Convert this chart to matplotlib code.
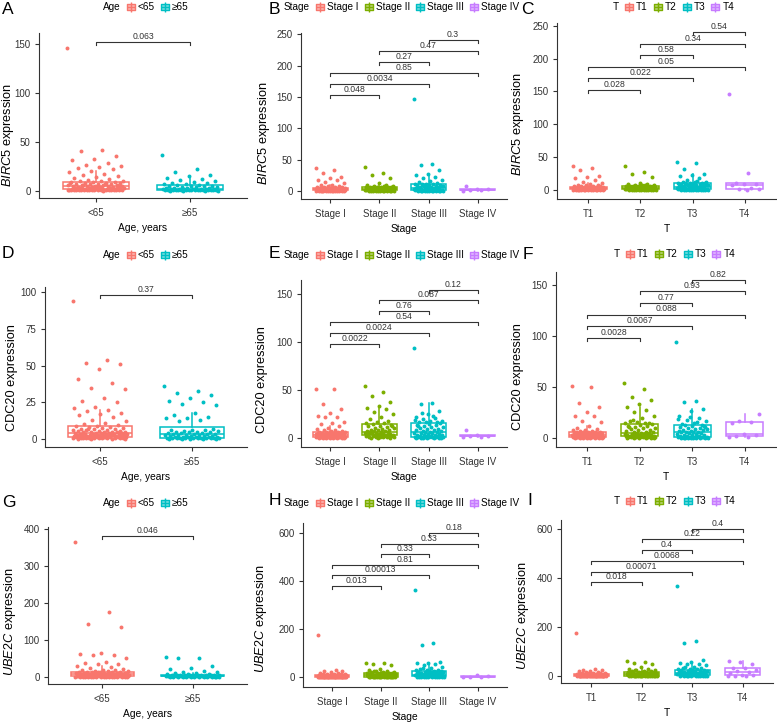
import numpy as np
import matplotlib
matplotlib.use("Agg")
import matplotlib.pyplot as plt
from matplotlib.lines import Line2D
from matplotlib.path import Path

plt.rcParams['font.family'] = ['Liberation Sans', 'DejaVu Sans']
plt.rcParams['mathtext.fontset'] = 'custom'
plt.rcParams['mathtext.rm'] = 'Liberation Sans'
plt.rcParams['mathtext.it'] = 'Liberation Sans:italic'

# ---------------- data ----------------
age_labels = ['<65', '≥65']
stage_labels = ['Stage I', 'Stage II', 'Stage III', 'Stage IV']
t_labels = ['T1', 'T2', 'T3', 'T4']

# BIRC5
birc5_lt65 = [146, 42, 41, 36, 32, 31, 28, 26, 25, 24, 23, 22, 20, 19, 17, 16, 15, 14, 13, 12, 11, 10, 10,
              9.5, 9, 8.8, 8.5, 8.2,
              7.9, 7.6, 7.2, 7.0, 6.8, 6.5, 6.2, 6.0, 5.8, 5.5, 5.2, 5.0, 4.8, 4.6, 4.4, 4.2, 4.0, 3.8, 3.6, 7.4, 6.6, 5.4, 4.5,
              3.4, 3.2, 3.0, 2.9, 2.7, 2.6, 2.4, 2.2, 2.1, 2.0, 1.9, 1.8, 1.7, 1.6, 1.5, 1.4, 1.3, 1.2, 1.1, 2.5, 3.1, 2.8,
              1.0, 0.9, 0.9, 0.8, 0.8, 0.7, 0.7, 0.6, 0.6, 0.5, 0.5, 0.4, 0.4, 0.3, 0.3, 0.2, 0.2, 0.1, 0.6, 0.8, 0.9]
birc5_ge65 = [37, 22, 19, 16, 15, 13, 12, 11, 10, 9, 8, 7.5, 7, 6.5,
              5.8, 5.5, 5.2, 5.0, 4.7, 4.4, 4.0, 3.7, 3.4, 3.0, 2.7, 2.5, 2.3, 2.1,
              1.9, 1.8, 1.7, 1.6, 1.5, 1.4, 1.3, 1.2, 1.1, 1.0, 0.9, 0.8, 0.7, 0.6,
              0.5, 0.45, 0.4, 0.4, 0.35, 0.3, 0.3, 0.25, 0.2, 0.2, 0.15, 0.1, 0.1, 0.05]

birc5_s1 = [36, 33, 28, 22, 20, 18, 17, 14, 12, 10, 9, 8, 7.5, 7, 6.5, 6, 5.8, 5.5, 5.2, 5.1,
            4.9, 4.7, 4.5, 4.3, 4.1, 3.9, 3.7, 3.5, 3.4, 3.3, 3.2, 3.1, 3.0, 2.9, 2.8, 2.7, 2.6, 4.0, 3.6, 2.55,
            2.4, 2.3, 2.2, 2.1, 2.0, 1.9, 1.8, 1.7, 1.6, 1.5, 1.4, 1.3, 1.2, 1.1, 1.05, 2.0, 1.5, 1.8, 1.3, 1.0,
            0.95, 0.9, 0.85, 0.8, 0.75, 0.7, 0.65, 0.6, 0.55, 0.5, 0.45, 0.4, 0.35, 0.3, 0.25, 0.2, 0.15, 0.1, 0.6, 0.8]
birc5_s2 = [38, 29, 26, 20, 12, 10, 9, 8, 7.5, 7, 6.5, 6.2, 6.1, 6.8, 7.2,
            5.9, 5.6, 5.3, 5.0, 4.8, 4.5, 4.3, 4.0, 3.8, 3.6, 3.4, 3.3, 3.2, 3.1, 5.5,
            2.9, 2.7, 2.5, 2.3, 2.1, 2.0, 1.9, 1.7, 1.5, 1.4, 1.3, 1.2, 1.1, 1.0, 2.4,
            0.9, 0.85, 0.8, 0.7, 0.65, 0.6, 0.5, 0.45, 0.4, 0.3, 0.25, 0.2, 0.15, 0.1, 0.7]
birc5_s3 = [146, 43, 42, 33, 27, 25, 23, 21, 18, 16, 14, 12, 11.5, 11.2, 11.1,
            10.8, 10.2, 9.6, 9.0, 8.5, 8.0, 7.5, 7.0, 6.6, 6.2, 5.8, 5.5, 5.2, 9.3, 7.8,
            4.8, 4.5, 4.2, 3.9, 3.6, 3.3, 3.0, 2.7, 2.4, 2.1, 1.8, 1.5, 1.3, 1.1, 4.0,
            0.95, 0.9, 0.8, 0.7, 0.65, 0.6, 0.5, 0.45, 0.4, 0.3, 0.25, 0.2, 0.15, 0.1, 0.55]
birc5_s4 = [0.3, 1.2, 2.0, 2.5, 3.0, 8.0]

birc5_t1 = [36, 33, 30, 22, 20, 18, 15, 12, 10, 9, 8, 7.5, 7, 6.5, 6, 5.8, 5.5, 5.2, 5.1, 5.05,
            4.9, 4.7, 4.5, 4.3, 4.1, 3.9, 3.7, 3.5, 3.4, 3.3, 3.2, 3.1, 3.0, 2.9, 2.8, 2.7, 2.6, 4.0, 3.6, 2.55,
            2.4, 2.3, 2.2, 2.1, 2.0, 1.9, 1.8, 1.7, 1.6, 1.5, 1.4, 1.3, 1.2, 1.1, 1.05, 2.0, 1.5, 1.8, 1.3, 1.0,
            0.95, 0.9, 0.85, 0.8, 0.75, 0.7, 0.65, 0.6, 0.55, 0.5, 0.45, 0.4, 0.35, 0.3, 0.25, 0.2, 0.15, 0.1, 0.6, 0.8]
birc5_t2 = [37, 28, 24, 20, 10, 9, 8.5, 8, 7.5, 7, 6.5, 6.2, 6.1, 6.8, 7.2,
            5.9, 5.6, 5.3, 5.0, 4.8, 4.5, 4.3, 4.0, 3.8, 3.6, 3.4, 3.3, 3.2, 3.1, 5.5,
            2.9, 2.7, 2.5, 2.3, 2.1, 2.0, 1.9, 1.7, 1.5, 1.4, 1.3, 1.2, 1.1, 1.0, 2.4,
            0.9, 0.85, 0.8, 0.7, 0.65, 0.6, 0.5, 0.45, 0.4, 0.3, 0.25, 0.2, 0.15, 0.1, 0.7]
birc5_t3 = [42, 41, 32, 25, 23, 21, 18, 15, 12, 11.8, 11.5, 11.3, 11.2, 11.1, 13,
            10.8, 10.2, 9.6, 9.0, 8.5, 8.0, 7.5, 7.0, 6.6, 6.2, 5.8, 5.5, 5.2, 9.3, 7.8,
            4.8, 4.5, 4.2, 3.9, 3.6, 3.3, 3.0, 2.7, 2.4, 2.1, 1.8, 1.5, 1.3, 1.1, 4.0,
            0.95, 0.9, 0.8, 0.7, 0.65, 0.6, 0.5, 0.45, 0.4, 0.3, 0.25, 0.2, 0.15, 0.1, 0.55]
birc5_t4 = [146, 26, 11, 9, 8.5, 7.5, 3, 1.5, 0.8, 0.3]

# CDC20
cdc20_lt65 = [94, 54, 52, 51, 48, 41, 38, 35, 34, 28, 26, 25, 22, 21, 20, 19, 18, 17, 16, 15, 13, 12, 11, 10, 9.5,
              8.8, 8.5, 8.2, 8.0, 7.7, 7.4, 7.1, 6.8, 6.5, 6.2, 6.0, 5.8, 5.6, 5.4, 5.2, 5.0, 4.9, 4.8, 4.6, 4.5, 4.4, 4.3, 4.2, 4.1, 7.0,
              3.9, 3.8, 3.7, 3.6, 3.5, 3.4, 3.3, 3.2, 3.1, 3.0, 2.9, 2.8, 2.7, 2.6, 2.5, 2.4, 2.3, 2.2, 2.1, 2.0, 1.9, 1.8, 1.7, 1.65, 3.0,
              1.55, 1.5, 1.45, 1.4, 1.3, 1.2, 1.1, 1.0, 0.95, 0.9, 0.8, 0.7, 0.65, 0.6, 0.5, 0.45, 0.4, 0.35, 0.3, 0.25, 0.2, 0.15, 0.1, 1.2, 0.8]
cdc20_ge65 = [36, 33, 31, 30, 28, 26, 25, 24, 23, 18, 16, 15, 14, 14, 13, 12,
              6.6, 6.3, 6.0, 5.8, 5.5, 5.2, 5.0, 4.8, 4.6, 4.4, 4.2, 4.0, 3.8, 3.6, 3.4, 3.3,
              3.1, 3.0, 2.8, 2.6, 2.5, 2.3, 2.1, 2.0, 1.8, 1.6, 1.5, 1.3, 1.2, 1.1, 1.0, 0.95,
              0.85, 0.8, 0.75, 0.7, 0.65, 0.6, 0.5, 0.45, 0.4, 0.35, 0.3, 0.25, 0.2, 0.15, 0.1, 0.05]

cdc20_s1 = [51, 51, 35, 30, 26, 23, 22, 22, 17, 16, 15, 12, 10, 9, 8.5, 8, 7.5, 7, 6.5, 6.2,
            5.9, 5.8, 5.6, 5.4, 5.2, 5.0, 4.9, 4.8, 4.6, 4.5, 4.4, 4.2, 4.1, 4.0, 3.9, 3.8, 3.7, 3.6, 5.5, 4.7,
            3.4, 3.3, 3.1, 3.0, 2.8, 2.6, 2.5, 2.3, 2.1, 2.0, 1.8, 1.6, 1.5, 1.4, 1.3, 1.2, 1.1, 1.05, 2.7, 1.9,
            0.95, 0.9, 0.85, 0.8, 0.75, 0.7, 0.65, 0.6, 0.55, 0.5, 0.45, 0.4, 0.35, 0.3, 0.25, 0.2, 0.15, 0.1, 0.6, 0.8]
cdc20_s2 = [54, 48, 44, 38, 33, 31, 30, 27, 25, 22, 20, 18, 17, 16, 15.5,
            14.5, 13.8, 13, 12.2, 11.5, 10.8, 10, 9.4, 8.8, 8.2, 7.8, 7.4, 7.0, 6.8, 12,
            6.4, 6.2, 6.0, 5.7, 5.4, 5.1, 4.8, 4.5, 4.2, 3.9, 3.6, 3.4, 3.2, 3.1, 5.0,
            2.9, 2.7, 2.5, 2.2, 2.0, 1.8, 1.5, 1.3, 1.0, 0.8, 0.6, 0.5, 0.3, 0.2, 0.1]
cdc20_s3 = [94, 36, 35, 28, 25, 22, 21, 20, 18, 17.5, 17, 16.5, 16.2, 19, 23, 26,
            15.5, 14.8, 14, 13.2, 12.5, 11.8, 11, 10.3, 9.6, 9, 8.4, 7.9, 7.4, 7, 6.7, 12,
            6.3, 6.0, 5.6, 5.2, 4.8, 4.4, 4.0, 3.6, 3.2, 2.9, 2.6, 2.3, 2.0, 1.8, 1.6, 1.5,
            1.3, 1.2, 1.1, 1.0, 0.9, 0.8, 0.7, 0.6, 0.5, 0.45, 0.4, 0.3, 0.25, 0.2, 0.1, 0.05]
cdc20_s4 = [0.5, 1.5, 2.0, 2.5, 3.0, 8.0]

cdc20_t1 = [51, 50, 34, 30, 25, 22, 22, 17, 16, 12, 10, 9, 8, 7.5, 7, 6.5, 6.2, 6, 5.8, 5.6,
            5.4, 5.3, 5.1, 5.0, 4.8, 4.6, 4.5, 4.3, 4.1, 4.0, 3.9, 3.8, 3.6, 3.5, 3.4, 3.3, 3.2, 3.1, 4.7, 3.7,
            2.9, 2.8, 2.6, 2.5, 2.4, 2.2, 2.1, 2.0, 1.9, 1.8, 1.6, 1.5, 1.4, 1.3, 1.2, 1.1, 1.05, 2.3, 1.7, 1.0,
            0.95, 0.9, 0.85, 0.8, 0.75, 0.7, 0.65, 0.6, 0.55, 0.5, 0.45, 0.4, 0.35, 0.3, 0.25, 0.2, 0.15, 0.1, 0.6, 0.8]
cdc20_t2 = [54, 48, 40, 37, 33, 30, 27, 25, 22, 20, 17, 15, 16, 14.5, 14.2, 18,
            13.6, 13, 12.2, 11.5, 10.8, 10, 9.3, 8.6, 8, 7.4, 6.8, 6.3, 5.8, 5.4, 5.1, 11,
            4.9, 4.6, 4.3, 4.0, 3.7, 3.4, 3.1, 2.9, 2.7, 2.5, 2.3, 2.1, 1.9, 1.7, 1.6, 1.55,
            1.4, 1.3, 1.2, 1.1, 1.0, 0.9, 0.8, 0.7, 0.6, 0.5, 0.4, 0.35, 0.3, 0.2, 0.1, 0.05]
cdc20_t3 = [94, 36, 35, 28, 26, 22, 20, 18, 17, 15, 14, 13, 21, 19, 16,
            12.5, 12, 11.4, 10.8, 10.2, 9.6, 9.0, 8.5, 8.0, 7.5, 7.0, 6.6, 6.3, 6.1, 11,
            5.8, 5.4, 5.0, 4.6, 4.2, 3.8, 3.4, 3.0, 2.6, 2.2, 1.8, 1.5, 1.2, 0.9, 0.8,
            0.65, 0.6, 0.55, 0.5, 0.45, 0.4, 0.35, 0.3, 0.25, 0.2, 0.15, 0.1, 0.05, 0.5, 0.3]
cdc20_t4 = [0.5, 1, 2, 3, 4, 15, 16, 17, 23]

# UBE2C
ube2c_lt65 = [365, 175, 143, 135, 65, 62, 60, 58, 50, 40, 38, 35, 34, 30, 28, 25, 22, 20, 20, 18, 17, 16, 15, 14.5, 14.2,
              13.8, 13.5, 13, 12.5, 12, 11.5, 11, 10.6, 10.2, 9.8, 9.5, 9.2, 8.9, 8.6, 8.3, 8, 7.8, 7.6, 7.4, 7.2, 7.1, 12.2, 10, 9, 8.1,
              6.9, 6.7, 6.4, 6.1, 5.8, 5.5, 5.2, 5.0, 4.8, 4.5, 4.2, 4.0, 3.8, 3.6, 3.4, 3.2, 3.0, 2.8, 2.6, 2.4, 2.2, 2.1, 5.6, 4.4, 3.3,
              1.9, 1.8, 1.7, 1.6, 1.5, 1.4, 1.3, 1.2, 1.1, 1.0, 0.9, 0.8, 0.7, 0.6, 0.5, 0.45, 0.4, 0.35, 0.3, 0.25, 0.2, 0.15, 0.1, 1.2, 0.6]
ube2c_ge65 = [55, 52, 50, 30, 25, 22, 15, 14, 13, 12, 10, 9, 8, 7, 6.5, 6.2,
              5.9, 5.7, 5.5, 5.3, 5.1, 4.9, 4.7, 4.5, 4.3, 4.1, 3.9, 3.7, 3.5, 3.3, 3.1, 4.0,
              2.9, 2.8, 2.7, 2.6, 2.5, 2.4, 2.3, 2.2, 2.1, 2.0, 1.9, 1.8, 1.7, 1.6, 1.55, 2.2,
              1.4, 1.3, 1.2, 1.1, 1.0, 0.9, 0.8, 0.7, 0.6, 0.5, 0.4, 0.35, 0.3, 0.2, 0.1, 0.05]

ube2c_s1 = [175, 30, 28, 25, 22, 20, 18, 16, 15, 14, 13, 12.5, 12, 11.5, 11, 10.8, 10.5, 10.3, 10.2, 10.1,
            9.8, 9.5, 9.2, 8.9, 8.6, 8.3, 8.0, 7.7, 7.4, 7.1, 6.8, 6.5, 6.2, 6.0, 5.8, 5.6, 5.4, 5.2, 5.1, 7.5,
            4.9, 4.7, 4.5, 4.3, 4.1, 3.9, 3.7, 3.5, 3.3, 3.1, 2.9, 2.7, 2.5, 2.3, 2.1, 4.0, 3.0, 2.6, 2.2, 2.05,
            1.9, 1.8, 1.7, 1.6, 1.5, 1.4, 1.3, 1.2, 1.1, 1.0, 0.9, 0.8, 0.7, 0.6, 0.5, 0.4, 0.3, 0.2, 0.1, 1.0]
ube2c_s2 = [62, 60, 55, 52, 35, 30, 28, 25, 24, 22, 21, 20, 19, 18.5, 18.2, 27,
            17.5, 17, 16.2, 15.5, 14.8, 14, 13.3, 12.6, 12, 11.4, 10.8, 10.2, 9.8, 9.4, 9.2, 15,
            8.7, 8.3, 7.9, 7.5, 7.1, 6.7, 6.3, 5.9, 5.5, 5.1, 4.7, 4.3, 3.9, 3.5, 3.2, 6.0,
            2.9, 2.7, 2.5, 2.3, 2.1, 1.9, 1.7, 1.5, 1.3, 1.1, 0.9, 0.7, 0.5, 0.3, 0.2, 0.1]
ube2c_s3 = [365, 145, 135, 65, 60, 58, 55, 50, 45, 40, 35, 32, 30, 29, 28, 38,
            26.5, 25.5, 24.5, 23.5, 22.5, 21.5, 20.5, 19.5, 18.5, 17.5, 16.5, 15.5, 14.5, 13.5, 12.8, 12.3,
            11.6, 11.2, 10.7, 10.2, 9.7, 9.2, 8.7, 8.2, 7.7, 7.2, 6.7, 6.2, 5.7, 5.3, 5.1, 9.0,
            4.8, 4.5, 4.2, 3.9, 3.6, 3.3, 3.0, 2.7, 2.4, 2.1, 1.8, 1.5, 1.2, 0.9, 0.6, 0.3]
ube2c_s4 = [1.0, 2.0, 3.0, 5.0, 12.0]

ube2c_t1 = [175, 30, 27, 25, 23, 20, 18, 16, 15, 14, 13, 12.5, 12, 11.5, 11, 10.8, 10.5, 10.3, 10.2, 10.1,
            9.8, 9.5, 9.2, 8.9, 8.6, 8.3, 8.0, 7.7, 7.4, 7.1, 6.8, 6.5, 6.2, 6.0, 5.8, 5.6, 5.4, 5.2, 5.1, 7.5,
            4.9, 4.7, 4.5, 4.3, 4.1, 3.9, 3.7, 3.5, 3.3, 3.1, 2.9, 2.7, 2.5, 2.3, 2.1, 4.0, 3.0, 2.6, 2.2, 2.05,
            1.9, 1.8, 1.7, 1.6, 1.5, 1.4, 1.3, 1.2, 1.1, 1.0, 0.9, 0.8, 0.7, 0.6, 0.5, 0.4, 0.3, 0.2, 0.1, 1.0]
ube2c_t2 = [62, 58, 55, 52, 36, 30, 28, 25, 24, 22, 21, 20, 19, 18.5, 18.2, 27,
            17.5, 17, 16.2, 15.5, 14.8, 14, 13.3, 12.6, 12, 11.4, 10.8, 10.2, 9.8, 9.4, 9.2, 15,
            8.7, 8.3, 7.9, 7.5, 7.1, 6.7, 6.3, 5.9, 5.5, 5.1, 4.7, 4.3, 3.9, 3.5, 3.2, 6.0,
            2.9, 2.7, 2.5, 2.3, 2.1, 1.9, 1.7, 1.5, 1.3, 1.1, 0.9, 0.7, 0.5, 0.3, 0.2, 0.1]
ube2c_t3 = [365, 145, 135, 65, 60, 55, 52, 50, 45, 40, 35, 32, 30, 29, 28, 38,
            26.5, 25.5, 24.5, 23.5, 22.5, 21.5, 20.5, 19.5, 18.5, 17.5, 16.5, 15.5, 14.5, 13.5, 12.8, 12.3,
            11.6, 11.2, 10.7, 10.2, 9.7, 9.2, 8.7, 8.2, 7.7, 7.2, 6.7, 6.2, 5.7, 5.3, 5.1, 9.0,
            4.8, 4.5, 4.2, 3.9, 3.6, 3.3, 3.0, 2.7, 2.4, 2.1, 1.8, 1.5, 1.2, 0.9, 0.6, 0.3]
ube2c_t4 = [1, 2, 3, 5, 7, 12, 17, 20, 25, 33, 34, 50, 58, 62]

# comparisons (pairs of groups) and p values
pairs_2 = [(1, 2)]
pairs_4 = [(1, 2), (1, 3), (1, 4), (2, 3), (2, 4), (3, 4)]
p_birc5_age = ['0.063']
p_birc5_stage = ['0.048', '0.0034', '0.85', '0.27', '0.47', '0.3']
p_birc5_t = ['0.028', '0.022', '0.05', '0.58', '0.34', '0.54']
p_cdc20_age = ['0.37']
p_cdc20_stage = ['0.0022', '0.0024', '0.54', '0.76', '0.087', '0.12']
p_cdc20_t = ['0.0028', '0.0067', '0.088', '0.77', '0.93', '0.82']
p_ube2c_age = ['0.046']
p_ube2c_stage = ['0.013', '0.00013', '0.81', '0.33', '0.33', '0.18']
p_ube2c_t = ['0.018', '0.00071', '0.0068', '0.4', '0.22', '0.4']

col2 = ['#F8766D', '#00BFC4']
col4 = ['#F8766D', '#7CAE00', '#00BFC4', '#C77CFF']

# ---------------- figure ----------------
W, H = 777, 722
fig = plt.figure(figsize=(W / 100, H / 100), dpi=100)
AX_COL = '#333333'


def add_ax(x0, y0, x1, y1):
    return fig.add_axes([x0 / W, 1 - y1 / H, (x1 - x0) / W, (y1 - y0) / H])


def jitter(n):
    return (np.arange(n) * 0.6180339887 % 1 - 0.5) * 0.6


def panel(ax, groups, labels, colors, ylim, yticks, ylabel, xlabel, pairs, pvals, ylab_px):
    pos = np.arange(1, len(groups) + 1)
    bp = ax.boxplot(groups, positions=pos, widths=0.7, patch_artist=True,
                    showfliers=False, showcaps=False)
    for i, c in enumerate(colors):
        bp['boxes'][i].set(facecolor='white', edgecolor=c, linewidth=1.1)
        bp['medians'][i].set(color=c, linewidth=1.1)
        for w in bp['whiskers'][2 * i:2 * i + 2]:
            w.set(color=c, linewidth=1.1)
    for i, (g, c) in enumerate(zip(groups, colors)):
        ax.scatter(pos[i] + jitter(len(g)), g, s=8, color=c, linewidths=0, zorder=3)

    ax.set_xlim(0.4, len(groups) + 0.6)
    ax.set_ylim(*ylim)
    ax.set_yticks(yticks)
    ax.set_xticks(pos)
    ax.set_xticklabels(labels)
    ax.set_ylabel(ylabel, fontsize=9.2)
    ax.set_xlabel(xlabel, fontsize=7.4, labelpad=4)
    # y label placement: centre of the label in figure pixels
    bb = ax.get_position()
    lx, ly = ylab_px
    ax.yaxis.set_label_coords(((lx + 6) / W - bb.x0) / bb.width, ((1 - ly / H) - bb.y0) / bb.height)
    for s in ['top', 'right']:
        ax.spines[s].set_visible(False)
    for s in ['left', 'bottom']:
        ax.spines[s].set_color(AX_COL)
        ax.spines[s].set_linewidth(0.8)
    ax.tick_params(length=3, width=0.8, color=AX_COL, labelsize=7, labelcolor='#333333', pad=3)
    ax.tick_params(axis='x', pad=4)

    # comparison brackets
    top = max(max(g) for g in groups)
    span = ylim[1] - ylim[0]
    h_px = bb.height * H
    tip = span * 3 / h_px
    for k, ((a, b), p) in enumerate(zip(pairs, pvals)):
        y = top * 1.045 + k * 0.12 * top
        ax.plot([a, a, b, b], [y - tip, y, y, y - tip], color=AX_COL, lw=0.8, clip_on=False)
        ax.text((a + b) / 2, y + span * 0.006, p, ha='center', va='bottom',
                fontsize=6.2, color='#333333')


box_marker = Path([(-1, -0.8), (1, -0.8), (1, 0.8), (-1, 0.8), (-1, -0.8),
                   (-1, 0), (1, 0), (0, -1.3), (0, 1.3)],
                  [Path.MOVETO, Path.LINETO, Path.LINETO, Path.LINETO, Path.CLOSEPOLY,
                   Path.MOVETO, Path.LINETO, Path.MOVETO, Path.LINETO])


def legend(title, labels, colors, left_px, cy_px):
    handles = [Line2D([], [], linestyle='none')]
    for c in colors:
        handles.append(Line2D([], [], linestyle='none', marker=box_marker, markersize=7.5,
                              markeredgecolor=c, markerfacecolor=c + '88', markeredgewidth=1))
    fig.legend(handles, [title] + labels, loc='center left',
               bbox_to_anchor=((left_px - 10) / W, 1 - cy_px / H), ncol=len(handles),
               frameon=False, fontsize=7.2, handlelength=0.8, handletextpad=0.3,
               columnspacing=0.6, borderpad=0, borderaxespad=0)


def letter(s, x, y):
    fig.text(x / W, 1 - y / H, s, fontsize=12.5, ha='left', va='top')


birc5_lab = r'$\mathit{BIRC5}$ expression'
ube2c_lab = r'$\mathit{UBE2C}$ expression'
cdc20_lab = 'CDC20 expression'

# row 1
axA = add_ax(39, 33, 247, 198)
panel(axA, [birc5_lt65, birc5_ge65], age_labels, col2, (-7.5, 161.6), [0, 50, 100, 150],
      birc5_lab, 'Age, years', pairs_2, p_birc5_age, (10, 135))
axB = add_ax(301, 33, 507, 199)
panel(axB, [birc5_s1, birc5_s2, birc5_s3, birc5_s4], stage_labels, col4, (-12.8, 252),
      [0, 50, 100, 150, 200, 250], birc5_lab, 'Stage', pairs_4, p_birc5_stage, (266, 133))
axC = add_ax(557, 23, 776, 199)
panel(axC, [birc5_t1, birc5_t2, birc5_t3, birc5_t4], t_labels, col4, (-13.7, 254),
      [0, 50, 100, 150, 200, 250], birc5_lab, 'T', pairs_4, p_birc5_t, (520, 124))

# row 2
axD = add_ax(45, 287, 247, 447)
panel(axD, [cdc20_lt65, cdc20_ge65], age_labels, col2, (-5.5, 103.6), [0, 25, 50, 75, 100],
      cdc20_lab, 'Age, years', pairs_2, p_cdc20_age, (12, 378))
axE = add_ax(301, 280, 507, 447)
panel(axE, [cdc20_s1, cdc20_s2, cdc20_s3, cdc20_s4], stage_labels, col4, (-9.4, 164.6),
      [0, 50, 100, 150], cdc20_lab, 'Stage', pairs_4, p_cdc20_stage, (262, 380))
axF = add_ax(556, 272, 776, 447)
panel(axF, [cdc20_t1, cdc20_t2, cdc20_t3, cdc20_t4], t_labels, col4, (-8.8, 162.4),
      [0, 50, 100, 150], cdc20_lab, 'T', pairs_4, p_cdc20_t, (518, 377))

# row 3
axG = add_ax(48, 527, 247, 684)
panel(axG, [ube2c_lt65, ube2c_ge65], age_labels, col2, (-19, 405), [0, 100, 200, 300, 400],
      ube2c_lab, 'Age, years', pairs_2, p_ube2c_age, (12, 622))
axH = add_ax(303, 523, 507, 687)
panel(axH, [ube2c_s1, ube2c_s2, ube2c_s3, ube2c_s4], stage_labels, col4, (-40, 643),
      [0, 200, 400, 600], ube2c_lab, 'Stage', pairs_4, p_ube2c_stage, (263, 619))
axI = add_ax(561, 520, 773, 683)
panel(axI, [ube2c_t1, ube2c_t2, ube2c_t3, ube2c_t4], t_labels, col4, (-27, 635),
      [0, 200, 400, 600], ube2c_lab, 'T', pairs_4, p_ube2c_t, (525, 616))

# legends
legend('Age', age_labels, col2, 102, 7)
legend('Stage', stage_labels, col4, 283, 7)
legend('T', t_labels, col4, 612, 7)
legend('Age', age_labels, col2, 102, 255)
legend('Stage', stage_labels, col4, 283, 255)
legend('T', t_labels, col4, 613, 254)
legend('Age', age_labels, col2, 102, 503)
legend('Stage', stage_labels, col4, 283, 503)
legend('T', t_labels, col4, 613, 501)

# panel letters
for s, x, y in [('A', 2, 2), ('B', 269, 2), ('C', 521, 2),
                ('D', 2, 246), ('E', 269, 246), ('F', 523, 247),
                ('G', 2, 495), ('H', 269, 493), ('I', 527, 493)]:
    letter(s, x, y)

fig.savefig('out.png', dpi=100)
